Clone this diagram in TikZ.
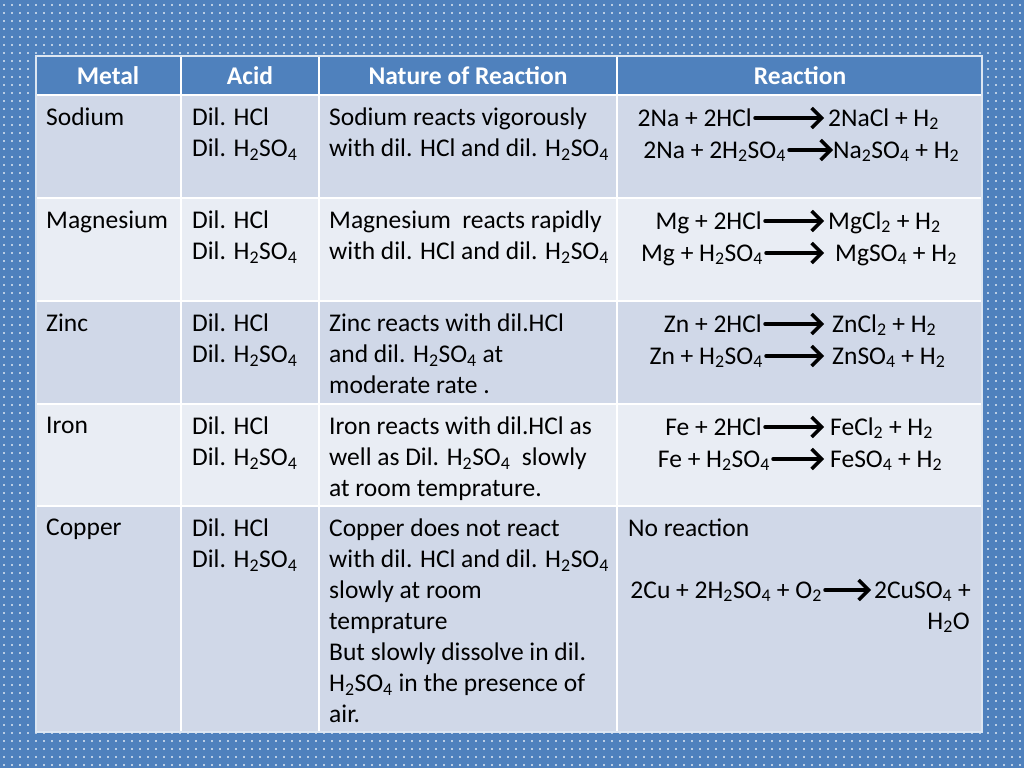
\documentclass[tikz,border=0pt]{standalone}
\usepackage{fontspec}
\setmainfont{Carlito}
\usetikzlibrary{arrows.meta}
\newcommand{\subs}[1]{\textsubscript{#1}}
\definecolor{bgblue}{HTML}{4F81BD}
\definecolor{rowA}{HTML}{D0D8E8}
\definecolor{rowB}{HTML}{E9EDF4}
\tikzset{
  txt/.style={inner sep=0pt,font=\fontsize{25.5}{31}\selectfont,align=left,anchor=north west},
  eq/.style={inner sep=0pt,font=\fontsize{25.5}{31}\selectfont,text height=17pt,text depth=5pt},
  hdr/.style={inner sep=0pt,font=\fontsize{25.5}{30}\selectfont\bfseries,text=white},
  rx/.style={line width=3.5pt,-{Straight Barb[length=10pt,width=20pt,line width=3.5pt]},line cap=round,shorten <=3pt,shorten >=1pt},
  dotline/.style={white!60!bgblue,line width=1.6pt,dash pattern=on 1.6pt off 6.4pt}
}
\begin{document}
\begin{tikzpicture}[x=1pt,y=-1pt]
\useasboundingbox (0,0) rectangle (1024,768);
\fill[bgblue] (0,0) rectangle (1024,768);
\foreach \i in {0,...,127}{\draw[dotline] (\i*8+4,4) -- (\i*8+4,768);}
% rows
\fill[bgblue] (36,56) rectangle (982,95);
\fill[rowA] (36,95) rectangle (982,198);
\fill[rowB] (36,198) rectangle (982,301);
\fill[rowA] (36,301) rectangle (982,404);
\fill[rowB] (36,404) rectangle (982,506);
\fill[rowA] (36,506) rectangle (982,732);
\foreach \y in {95,198,301,404,506}{\draw[white,line width=1.5pt] (36,\y) -- (982,\y);}
\foreach \x in {181,319,617}{\draw[white,line width=1.5pt] (\x,56) -- (\x,732);}
\draw[white!80!bgblue,line width=2pt] (36,56) rectangle (982,732);
% header
\node[hdr] (h1) at (108,76) {Metal};
\node[hdr] (h2) at (250,76) {Acid};
\node[hdr] (h3) at (468,76) {Nature of Reaction};
\node[hdr] (h4) at (800,76) {Reaction};
% metal column
\node[txt] (m1) at (46,108) {Sodium};
\node[txt] (m2) at (46,211) {Magnesium};
\node[txt] (m3) at (46,314) {Zinc};
\node[txt] (m4) at (46,417) {Iron};
\node[txt] (m5) at (46,519) {Copper};
% acid
\foreach \n/\y in {1/108,2/211,3/314,4/417,5/519}{
  \node[txt] (a\n) at (192,\y) {Dil. HCl\\Dil. H\subs{2}SO\subs{4}};}
% nature
\node[txt] (n1) at (329,108) {Sodium reacts vigorously\\with dil. HCl and dil. H\subs{2}SO\subs{4}};
\node[txt] (n2) at (329,211) {Magnesium\ \ reacts rapidly\\with dil. HCl and dil. H\subs{2}SO\subs{4}};
\node[txt] (n3) at (329,314) {Zinc reacts with dil.HCl\\and dil. H\subs{2}SO\subs{4} at\\moderate rate .};
\node[txt] (n4) at (329,417) {Iron reacts with dil.HCl as\\well as Dil. H\subs{2}SO\subs{4}\ \ slowly\\at room temprature.};
\node[txt] (n5) at (329,519) {Copper does not react\\with dil. HCl and dil. H\subs{2}SO\subs{4}\\slowly at room\\temprature\\But slowly dissolve in dil.\\H\subs{2}SO\subs{4} in the presence of\\air.};
% reactions
\newcommand{\rxn}[7]{%
  \node[eq,anchor=base east] (#1L) at (#3,#2) {#6};
  \node[eq,anchor=base west] (#1R) at (#5,#2) {#7};
  \coordinate (#1a) at (#3,#2-8);
  \coordinate (#1b) at (#4,#2-8);
  \draw[rx] (#1a) -- (#1b);}
\rxn{r1}{126}{752}{825}{828}{2Na + 2HCl}{2NaCl + H\subs{2}}
\rxn{r2}{158}{786}{834}{833}{2Na + 2H\subs{2}SO\subs{4}}{Na\subs{2}SO\subs{4} + H\subs{2}}
\rxn{r3}{229}{762}{825}{828}{Mg + 2HCl}{MgCl\subs{2} + H\subs{2}}
\rxn{r4}{261}{763}{825}{835}{Mg + H\subs{2}SO\subs{4}}{MgSO\subs{4} + H\subs{2}}
\rxn{r5}{332}{762}{825}{832}{Zn + 2HCl}{ZnCl\subs{2} + H\subs{2}}
\rxn{r6}{364}{763}{825}{832}{Zn + H\subs{2}SO\subs{4}}{ZnSO\subs{4} + H\subs{2}}
\rxn{r7}{435}{762}{825}{830}{Fe + 2HCl}{FeCl\subs{2} + H\subs{2}}
\rxn{r8}{467}{770}{825}{830}{Fe + H\subs{2}SO\subs{4}}{FeSO\subs{4} + H\subs{2}}
\node[txt] (c0) at (628,519) {No reaction};
\rxn{r9}{598}{822}{872}{874}{2Cu + 2H\subs{2}SO\subs{4} + O\subs{2}}{2CuSO\subs{4} +}
\node[eq,anchor=base east] (c1) at (970,629) {H\subs{2}O};
\end{tikzpicture}
\end{document}
